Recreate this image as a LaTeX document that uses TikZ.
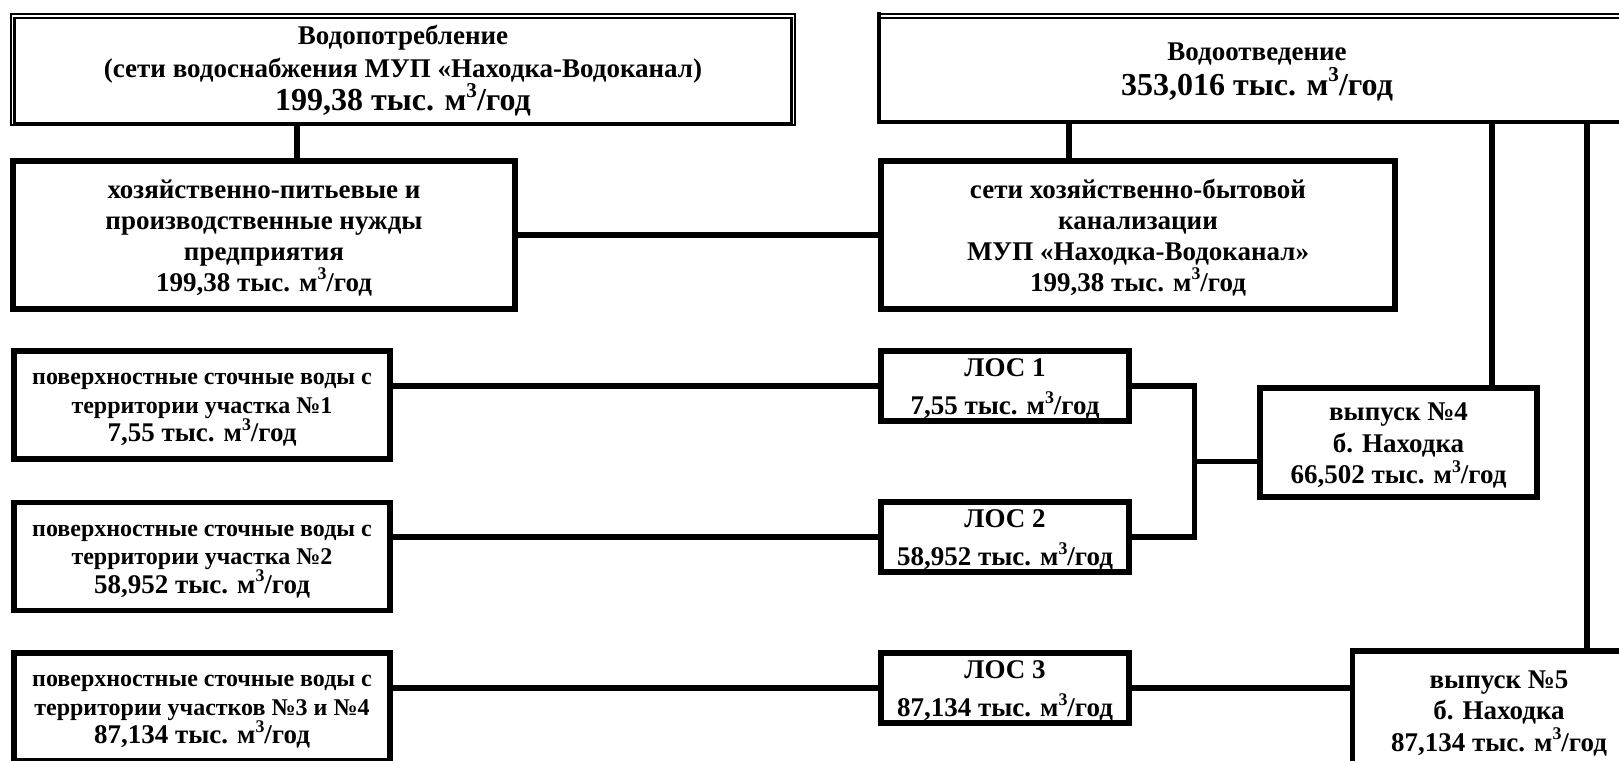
\documentclass[tikz,border=0pt]{standalone}
\usepackage{fontspec}
\usepackage{graphicx}
\setmainfont{Liberation Serif}
\usetikzlibrary{calc}
\newcommand{\sups}[1]{\raisebox{0.42em}[0pt][0pt]{\scalebox{0.66}{#1}}}
\newcommand{\mcub}{м\sups{3}/год}
% struts: height above baseline / depth below
\newcommand{\stA}{\rule[-5pt]{0pt}{29pt}}
\newcommand{\stB}{\rule[-6pt]{0pt}{28pt}}
\newcommand{\stC}{\rule[-7pt]{0pt}{29pt}}
\newcommand{\stD}{\rule[-8pt]{0pt}{30pt}}
\newcommand{\fsmall}{\fontsize{24}{28.5}\selectfont}
\newcommand{\fbig}{\fontsize{32}{35}\selectfont}
\tikzset{
  box/.style={draw, line width=5.5pt, inner sep=0pt, outer sep=0pt, align=center,
    font=\bfseries\fontsize{27}{31}\selectfont},
  leftbox/.style={box, font=\bfseries\fontsize{27}{28.5}\selectfont},
  losbox/.style={box, font=\bfseries\fontsize{27}{38}\selectfont},
  outbox/.style={box, font=\bfseries\fontsize{27}{31.5}\selectfont},
  link/.style={line width=5.5pt}
}
\begin{document}
\begin{tikzpicture}[x=1pt,y=-1pt]
\useasboundingbox (0,0) rectangle (1619,760);
\clip (0,0) rectangle (1619,760);

% top boxes
\node[box, line width=2.7pt, minimum width=776.6, minimum height=105,
      font=\bfseries\fontsize{27}{33}\selectfont] (tl) at (403,70.5)
  {\stD Водопотребление\\\stD (сети водоснабжения МУП «Находка-Водоканал)\\\stD\fbig 199,38 тыс. \mcub};
\draw[line width=2pt] ($(tl.north west)+(-3.7,-3.7)$) rectangle ($(tl.south east)+(3.7,1.5)$);

\node[box, draw=none, minimum width=756, minimum height=104,
      font=\bfseries\fontsize{27}{35}\selectfont] (wo) at (1257,70)
  {\stC Водоотведение\\\stC\fbig 353,016 тыс. \mcub};
\draw[line width=4pt] ($(wo.north west)+(0,-5.5)$) -- (wo.south west) -- (wo.south east);
\draw[line width=1.7pt] (wo.north west) -- (wo.north east);
\draw[line width=2pt] ($(wo.north west)+(0,-3.8)$) -- ($(wo.north east)+(0,-3.8)$);

% second row
\node[box, minimum width=502, minimum height=148] (hoz) at (264,235)
  {\stA хозяйственно-питьевые и\\\stA производственные нужды\\\stA предприятия\\\stA 199,38 тыс. \mcub};
\node[box, minimum width=514, minimum height=148] (seti) at (1138,235)
  {\stA сети хозяйственно-бытовой\\\stA канализации\\\stA МУП «Находка-Водоканал»\\\stA 199,38 тыс. \mcub};

% left boxes
\node[leftbox, minimum width=376, minimum height=108] (b1) at (202,405)
  {\stB\fsmall поверхностные сточные воды с\\\stB\fsmall территории участка №1\\\stB 7,55 тыс. \mcub};
\node[leftbox, minimum width=376, minimum height=108] (b2) at (202,556.5)
  {\stB\fsmall поверхностные сточные воды с\\\stB\fsmall территории участка №2\\\stB 58,952 тыс. \mcub};
\node[leftbox, minimum width=376, minimum height=108] (b3) at (202,707)
  {\stB\fsmall поверхностные сточные воды с\\\stB\fsmall территории участков №3 и №4\\\stB 87,134 тыс. \mcub};

% LOS boxes
\node[losbox, minimum width=248, minimum height=70] (l1) at (1005,386)
  {\stA ЛОС 1\\\stA 7,55 тыс. \mcub};
\node[losbox, minimum width=248, minimum height=70] (l2) at (1005,537)
  {\stA ЛОС 2\\\stA 58,952 тыс. \mcub};
\node[losbox, minimum width=248, minimum height=70] (l3) at (1005,688)
  {\stA ЛОС 3\\\stA 87,134 тыс. \mcub};

% outlets
\node[outbox, minimum width=277, minimum height=109] (v4) at (1398.5,442.5)
  {\stA выпуск №4\\\stA б. Находка\\\stA 66,502 тыс. \mcub};
\node[outbox, minimum width=293, minimum height=118] (v5) at (1499,710)
  {\stA выпуск №5\\\stA б. Находка\\\stA 87,134 тыс. \mcub};

% connectors
\coordinate (x1) at (297,0);
\coordinate (x2) at (1069,0);
\coordinate (x3) at (1492,0);
\coordinate (x4) at (1587,0);
\coordinate (jx) at (1194.5,0);

\draw[link] (x1 |- tl.south) -- (x1 |- hoz.north);
\draw[link] (x2 |- wo.south) -- (x2 |- seti.north);
\draw[link] (x3 |- wo.south) -- (x3 |- v4.north);
\draw[link] (x4 |- wo.south) -- (x4 |- v5.north);
\draw[link] (hoz.east) -- (seti.west);
\draw[link] (l1.west -| b1.east) -- (l1.west);
\draw[link] (l2.west -| b2.east) -- (l2.west);
\draw[link] (l3.west -| b3.east) -- (l3.west);
\draw[link] (l1.east) -- (l1.east -| jx) -- (l2.east -| jx) -- (l2.east);
\coordinate (jm) at ($(l1.east -| jx)!0.5!(l2.east -| jx)$);
\draw[link] (jm) -- (jm -| v4.west);
\draw[link] (l3.east) -- (l3.east -| v5.west);
\end{tikzpicture}
\end{document}
